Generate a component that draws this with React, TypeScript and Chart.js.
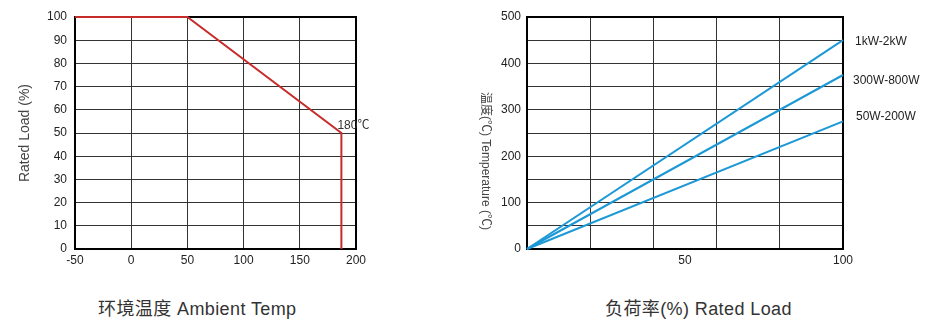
import React, { useEffect, useRef } from "react";
import { Chart, registerables } from "chart.js";

Chart.register(...registerables);

// ---- Data ----
const deratingTemp = [-50, 50, 187, 187];
const deratingLoad = [100, 100, 50, 0];
const deratingNote = "180℃";

const loadPercent = [0, 100];
const tempHigh = [0, 450];
const tempMid = [0, 375];
const tempLow = [0, 275];
const seriesNames = ["1kW-2kW", "300W-800W", "50W-200W"];

const leftYTitle = "Rated Load (%)";
const rightYTitle = "温度(℃) Temperature (℃)";
const leftCaption = "环境温度 Ambient Temp";
const rightCaption = "负荷率(%) Rated Load";

const FONT = "'Liberation Sans', Arial, 'Noto Sans CJK SC', sans-serif";
const RED = "#c62d2a";
const BLUE = "#1b98d5";
const GRID = "#333333";

const toPts = (xs: number[], ys: number[]) => xs.map((x, i) => ({ x, y: ys[i] }));

const frameBorder = {
  id: "frameBorder",
  beforeDatasetsDraw(chart: any) {
    const { ctx, chartArea: a } = chart;
    ctx.save();
    ctx.strokeStyle = "#000";
    ctx.lineWidth = 2;
    ctx.strokeRect(a.left, a.top, a.right - a.left, a.bottom - a.top);
    ctx.restore();
  },
};

function LeftChart() {
  const ref = useRef<HTMLCanvasElement>(null);
  useEffect(() => {
    const note = {
      id: "note",
      afterDatasetsDraw(chart: any) {
        const { ctx, scales } = chart;
        const px = scales.x.getPixelForValue(deratingTemp[2]);
        const py = scales.y.getPixelForValue(deratingLoad[2]);
        ctx.save();
        ctx.font = `12px ${FONT}`;
        ctx.fillStyle = "#333";
        ctx.textBaseline = "middle";
        ctx.textAlign = "left";
        ctx.fillText(deratingNote, px - 4, py - 7);
        ctx.restore();
      },
    };
    const chart = new Chart(ref.current!, {
      type: "line",
      data: {
        datasets: [
          {
            data: toPts(deratingTemp, deratingLoad),
            borderColor: RED,
            borderWidth: 2,
            pointRadius: 0,
            tension: 0,
            clip: 6,
          } as any,
        ],
      },
      options: {
        responsive: false,
        animation: false,
        events: [],
        layout: { padding: { top: 17, right: 24, left: 0, bottom: 0 } },
        plugins: { legend: { display: false }, tooltip: { enabled: false } },
        scales: {
          x: {
            type: "linear",
            min: -50,
            max: 200,
            afterFit: (s: any) => { s.height = 31; },
            ticks: { stepSize: 50, padding: 4, color: "#222", font: { family: FONT, size: 12 }, maxRotation: 0, autoSkip: false },
            grid: { color: GRID, lineWidth: 1, drawTicks: false },
            border: { display: false },
          },
          y: {
            type: "linear",
            min: 0,
            max: 100,
            afterFit: (s: any) => { s.width = 75; },
            ticks: { stepSize: 10, padding: 8, color: "#222", font: { family: FONT, size: 12 }, autoSkip: false },
            grid: { color: GRID, lineWidth: 1, drawTicks: false },
            border: { display: false },
            title: { display: true, text: leftYTitle, color: "#444", font: { family: FONT, size: 14 }, padding: { top: 17, bottom: 0 } },
          },
        },
      },
      plugins: [frameBorder, note],
    });
    return () => chart.destroy();
  }, []);
  return <canvas ref={ref} width={380} height={280} style={{ position: "absolute", left: 0, top: 0 }} />;
}

function RightChart() {
  const ref = useRef<HTMLCanvasElement>(null);
  useEffect(() => {
    const labels = {
      id: "labels",
      afterDraw(chart: any) {
        const { ctx, chartArea: a, scales } = chart;
        ctx.save();
        ctx.font = `12px ${FONT}`;
        ctx.fillStyle = "#222";
        ctx.textBaseline = "middle";
        ctx.textAlign = "left";
        const ends = [tempHigh[1], tempMid[1], tempLow[1]];
        const dy = [1, 6, -5];
        const dx = [12, 10, 13];
        seriesNames.forEach((n, i) => {
          ctx.fillText(n, a.right + dx[i], scales.y.getPixelForValue(ends[i]) + dy[i]);
        });
        ctx.font = `12px ${FONT}`;
        ctx.fillStyle = "#444";
        ctx.translate(25, (a.top + a.bottom) / 2 + 28);
        ctx.rotate(Math.PI / 2);
        ctx.textAlign = "center";
        ctx.fillText(rightYTitle, 0, 0);
        ctx.restore();
      },
    };
    const mk = (ys: number[]) => ({
      data: toPts(loadPercent, ys),
      borderColor: BLUE,
      borderWidth: 2,
      pointRadius: 0,
      tension: 0,
      clip: 6,
    } as any);
    const chart = new Chart(ref.current!, {
      type: "line",
      data: { datasets: [mk(tempHigh), mk(tempMid), mk(tempLow)] },
      options: {
        responsive: false,
        animation: false,
        events: [],
        layout: { padding: { top: 17, right: 95, left: 0, bottom: 0 } },
        plugins: { legend: { display: false }, tooltip: { enabled: false } },
        scales: {
          x: {
            type: "linear",
            min: 0,
            max: 100,
            afterFit: (s: any) => { s.height = 31; },
            ticks: {
              stepSize: 10,
              padding: 4,
              color: "#222",
              font: { family: FONT, size: 12 },
              maxRotation: 0,
              autoSkip: false,
              callback: (v: any) => (v === 50 || v === 100 ? String(v) : ""),
            },
            grid: {
              color: (c: any) => (c.tick && c.tick.value % 20 === 0 ? GRID : "rgba(0,0,0,0)"),
              lineWidth: 1,
              drawTicks: false,
            },
            border: { display: false },
          },
          y: {
            type: "linear",
            min: 0,
            max: 500,
            afterFit: (s: any) => { s.width = 67; },
            ticks: {
              stepSize: 50,
              padding: 6,
              color: "#222",
              font: { family: FONT, size: 12 },
              autoSkip: false,
              callback: (v: any) => (v % 100 === 0 ? String(v) : ""),
            },
            grid: { color: GRID, lineWidth: 1, drawTicks: false },
            border: { display: false },
          },
        },
      },
      plugins: [frameBorder, labels],
    });
    return () => chart.destroy();
  }, []);
  return <canvas ref={ref} width={478} height={280} style={{ position: "absolute", left: 460, top: 0 }} />;
}

export default function App() {
  const cap: React.CSSProperties = {
    position: "absolute",
    top: 300,
    fontFamily: FONT,
    fontSize: 18,
    lineHeight: "18px",
    letterSpacing: "0.4px",
    color: "#333",
    whiteSpace: "nowrap",
  };
  return (
    <div style={{ position: "fixed", left: 0, top: 0, width: 938, height: 335, background: "#fff", overflow: "hidden" }}>
      <LeftChart />
      <RightChart />
      <div style={{ ...cap, left: 98 }}>{leftCaption}</div>
      <div style={{ ...cap, left: 605 }}>{rightCaption}</div>
    </div>
  );
}
